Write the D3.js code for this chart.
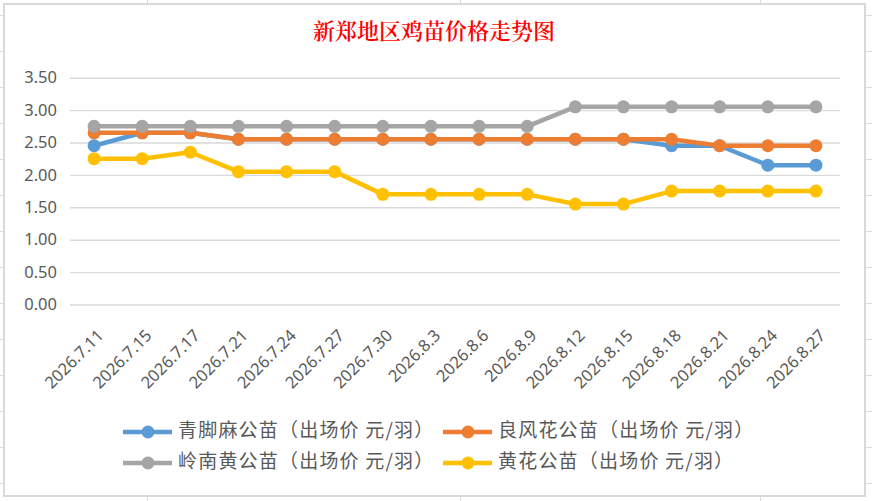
<!DOCTYPE html>
<html>
<head>
<meta charset="utf-8">
<script src="https://cdn.jsdelivr.net/npm/d3@7"></script>
<style>
  body { margin: 0; background: #fff; }
  svg { display: block; }
</style>
</head>
<body>
<div id="main"></div>
<script>
// data
const dates = ["2026.7.11","2026.7.15","2026.7.17","2026.7.21","2026.7.24","2026.7.27","2026.7.30","2026.8.3",
  "2026.8.6","2026.8.9","2026.8.12","2026.8.15","2026.8.18","2026.8.21","2026.8.24","2026.8.27"];
const qingjiaoma   = [2.45,2.65,2.65,2.55,2.55,2.55,2.55,2.55,2.55,2.55,2.55,2.55,2.45,2.45,2.15,2.15];
const liangfenghua = [2.65,2.65,2.65,2.55,2.55,2.55,2.55,2.55,2.55,2.55,2.55,2.55,2.55,2.45,2.45,2.45];
const lingnanhuang = [2.75,2.75,2.75,2.75,2.75,2.75,2.75,2.75,2.75,2.75,3.05,3.05,3.05,3.05,3.05,3.05];
const huanghua     = [2.25,2.25,2.35,2.05,2.05,2.05,1.70,1.70,1.70,1.70,1.55,1.55,1.75,1.75,1.75,1.75];
const seriesNames = ["青脚麻公苗（出场价 元/羽）","良风花公苗（出场价 元/羽）","岭南黄公苗（出场价 元/羽）","黄花公苗（出场价 元/羽）"];
const seriesColors = ["#5B9BD5","#ED7D31","#A5A5A5","#FFC000"];
const yTicks = [0,0.5,1,1.5,2,2.5,3,3.5];
const title = "新郑地区鸡苗价格走势图";

const series = [qingjiaoma, liangfenghua, lingnanhuang, huanghua].map((vals, i) => ({
  name: seriesNames[i], color: seriesColors[i],
  values: vals.map((v, j) => ({date: dates[j], value: v}))
}));

const W = 872, H = 501;
const plot = {left: 70, right: 840, top: 77.7, bottom: 304.5};

const svg = d3.select("#main").append("svg")
  .attr("width", W).attr("height", H);

// spreadsheet cells behind the chart
const sheet = svg.append("g").attr("stroke", "#dadada").attr("stroke-width", 1);
sheet.selectAll(".hrow").data(d3.range(14)).join("line")
  .attr("x1", 0).attr("x2", W)
  .attr("y1", d => 15.5 + d * 36).attr("y2", d => 15.5 + d * 36);
sheet.selectAll(".vcol").data([147.5, 460.5, 760.5]).join("line")
  .attr("y1", 0).attr("y2", H)
  .attr("x1", d => d).attr("x2", d => d);

// chart box
svg.append("rect")
  .attr("x", 4).attr("y", 4).attr("width", 861).attr("height", 492)
  .attr("fill", "#fff").attr("stroke", "#d9d9d9").attr("stroke-width", 2);

// title
svg.append("text")
  .attr("x", 434).attr("y", 33)
  .attr("text-anchor", "middle").attr("dominant-baseline", "middle")
  .attr("fill", "#ff0000")
  .style("font-family", "'Noto Serif CJK SC','Noto Sans CJK SC',serif")
  .style("font-size", "22px").style("font-weight", "600")
  .text(title);

const x = d3.scalePoint().domain(dates).range([plot.left, plot.right]).padding(0.5);
const y = d3.scaleLinear().domain([0, 3.5]).range([plot.bottom, plot.top]);

// y axis + gridlines
const yAxis = svg.append("g")
  .attr("transform", `translate(${plot.left},0)`)
  .call(d3.axisLeft(y).tickValues(yTicks).tickFormat(d3.format(".2f"))
    .tickSize(-(plot.right - plot.left)).tickPadding(13));
yAxis.select(".domain").remove();
yAxis.selectAll("line").attr("stroke", "#d9d9d9").attr("stroke-width", 1.4);
yAxis.selectAll("text")
  .attr("fill", "#595959")
  .style("font-family", "'Noto Sans','Open Sans',sans-serif")
  .style("font-size", "16.5px");

// x axis labels
const xAxis = svg.append("g")
  .attr("transform", `translate(0,${plot.bottom})`)
  .call(d3.axisBottom(x).tickSize(0));
xAxis.select(".domain").remove();
xAxis.selectAll("text")
  .attr("fill", "#595959")
  .attr("x", 0).attr("y", 0).attr("dy", "0.35em")
  .attr("text-anchor", "end")
  .attr("transform", "translate(6,28) rotate(-45)")
  .style("font-family", "'Noto Sans','Open Sans',sans-serif")
  .style("font-size", "16.5px");

// lines and markers
const line = d3.line().x(d => x(d.date)).y(d => y(d.value));
const sg = svg.selectAll(".series").data(series).join("g").attr("class", "series");
sg.append("path")
  .attr("d", d => line(d.values))
  .attr("fill", "none")
  .attr("stroke", d => d.color)
  .attr("stroke-width", 4.5)
  .attr("stroke-linejoin", "round");
sg.selectAll("circle").data(d => d.values.map(v => ({...v, color: d.color}))).join("circle")
  .attr("cx", d => x(d.date)).attr("cy", d => y(d.value))
  .attr("r", 6.5).attr("fill", d => d.color);

// legend
const legendPos = [[123, 432], [443, 432], [123, 463], [443, 463]];
const lg = svg.selectAll(".legend").data(series).join("g")
  .attr("class", "legend")
  .attr("transform", (d, i) => `translate(${legendPos[i][0]},${legendPos[i][1]})`);
lg.append("line")
  .attr("x1", 0).attr("x2", 49).attr("y1", 0).attr("y2", 0)
  .attr("stroke", d => d.color).attr("stroke-width", 4.5);
lg.append("circle").attr("cx", 25).attr("cy", 0).attr("r", 6.5).attr("fill", d => d.color);
lg.append("text")
  .attr("x", 55).attr("y", 0).attr("dominant-baseline", "middle")
  .attr("fill", "#595959")
  .style("font-family", "'Noto Sans CJK SC',sans-serif")
  .style("font-size", "19px")
  .style("letter-spacing", "1.2px")
  .text(d => d.name);
</script>
</body>
</html>
